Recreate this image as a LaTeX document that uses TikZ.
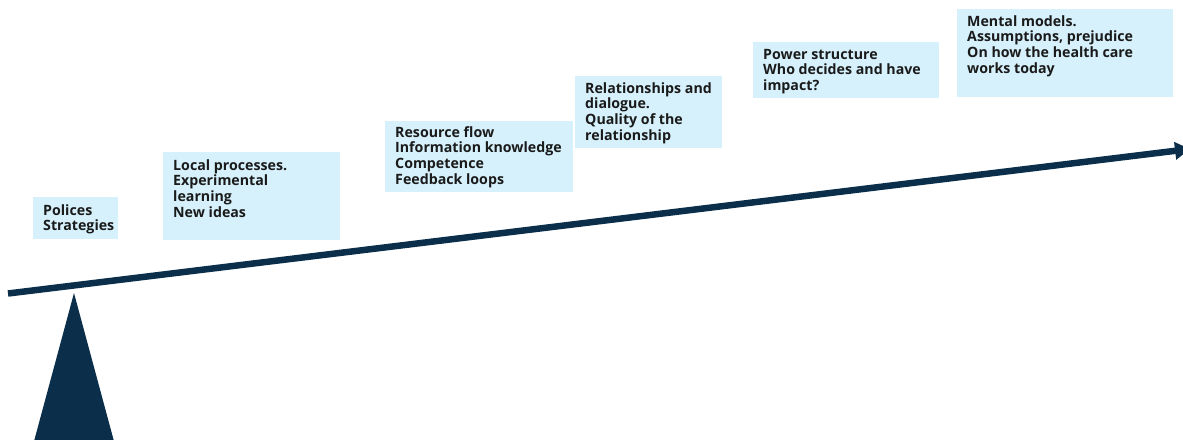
\documentclass[tikz,border=0pt]{standalone}
\usepackage{fontspec}
\setmainfont{Open Sans}
\usetikzlibrary{arrows.meta}
\definecolor{boxblue}{HTML}{D6F1FB}
\definecolor{navy}{HTML}{0B2E4A}
\definecolor{ink}{HTML}{1A1A1A}
\tikzset{
  box/.style={fill=boxblue, draw=none, inner sep=0pt, anchor=north west},
  txt/.style={inner sep=0pt, anchor=north west, align=left, text=ink,
    font=\fontsize{14.2}{15.7}\selectfont\bfseries},
  lever/.style={draw=navy, line width=6.5pt, line cap=butt,
    -{Triangle[length=15pt,width=17pt]}},
  fulcrum/.style={fill=navy, draw=none}
}
\newcommand{\fs}{\rule{0pt}{11.5pt}}
\begin{document}
\begin{tikzpicture}[x=1pt,y=-1pt]
\useasboundingbox (0,0) rectangle (1183,439);
% boxes
\node[box, minimum width=85pt, minimum height=42pt] (b1) at (33,197) {};
\node[box, minimum width=177pt, minimum height=88pt] (b2) at (163,152) {};
\node[box, minimum width=188pt, minimum height=71pt] (b3) at (385,121) {};
\node[box, minimum width=147pt, minimum height=72pt] (b4) at (575,76) {};
\node[box, minimum width=186pt, minimum height=56pt] (b5) at (753,42) {};
\node[box, minimum width=216pt, minimum height=88pt] (b6) at (957,9) {};
% texts
\node[txt] (t1) at (43,203.5) {\fs Polices\\Strategies};
\node[txt] (t2) at (173,158.5) {\fs Local processes.\\Experimental\\learning\\New ideas};
\node[txt] (t3) at (395,125.5) {\fs Resource flow\\Information knowledge\\Competence\\Feedback loops};
\node[txt] (t4) at (585,81.5) {\fs Relationships and\\dialogue.\\Quality of the\\relationship};
\node[txt] (t5) at (763,47.5) {\fs Power structure\\Who decides and have\\impact?};
\node[txt] (t6) at (967,14.5) {\fs Mental models.\\Assumptions, prejudice\\On how the health care\\works today};
% fulcrum
\coordinate (apex) at (74,293);
\coordinate (bl) at (33,445);
\coordinate (br) at (115,445);
\fill[fulcrum] (apex) -- (br) -- (bl) -- cycle;
% lever
\coordinate (L) at (8,293.5);
\coordinate (R) at (1190,149);
\draw[lever] (L) -- (R);
\end{tikzpicture}
\end{document}
